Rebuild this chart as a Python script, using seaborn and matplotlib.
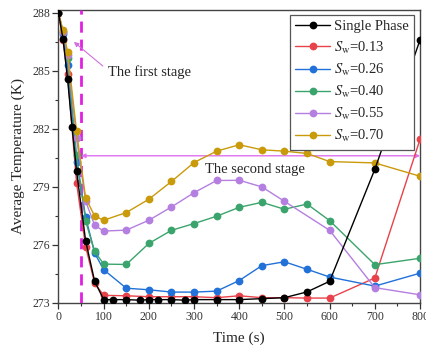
import matplotlib
matplotlib.use("Agg")
import matplotlib.pyplot as plt
import seaborn as sns

# Time axis (s)
t_single = [0, 10, 20, 30, 40, 60, 80, 100, 120, 150, 180, 200, 220, 250, 280,
            300, 350, 400, 450, 500, 550, 600, 700, 800]
T_single = [288.0, 286.65, 284.6, 282.1, 279.8, 276.2, 274.1, 273.15, 273.15,
            273.15, 273.12, 273.15, 273.15, 273.15, 273.12, 273.15, 273.15,
            273.15, 273.2, 273.25, 273.55, 274.1, 279.9, 286.6]

t_sw = [0, 10, 20, 40, 60, 80, 100, 150, 200, 250, 300, 350, 400, 450, 500,
        550, 600, 700, 800]
T_013 = [288.0, 286.6, 284.85, 279.2, 275.9, 274.0, 273.37, 273.35, 273.3, 273.3,
         273.3, 273.25, 273.35, 273.25, 273.25, 273.23, 273.23, 274.27, 281.45]
T_026 = [288.0, 286.9, 285.3, 280.3, 277.43, 275.56, 274.7, 273.74, 273.66,
         273.54, 273.54, 273.59, 274.14, 274.91, 275.11, 274.72, 274.32, 273.85,
         274.52]
T_040 = [288.0, 287.0, 285.65, 280.63, 277.22, 275.65, 274.99, 274.97, 276.06,
         276.74, 277.09, 277.47, 277.93, 278.19, 277.83, 278.1, 277.24, 274.96,
         275.29]
t_055 = [0, 10, 20, 40, 60, 80, 100, 150, 200, 250, 300, 350, 400, 450, 500,
         600, 700, 800]
T_055 = [288.0, 287.0, 285.8, 281.5, 278.25, 277.0, 276.7, 276.75, 277.26,
         277.95, 278.69, 279.32, 279.33, 278.99, 278.24, 276.74, 273.77, 273.4]
T_070 = [288.0, 287.1, 286.0, 281.86, 278.42, 277.48, 277.26, 277.66, 278.35,
         279.27, 280.25, 280.84, 281.17, 280.91, 280.84, 280.72, 280.3, 280.23,
         279.54]

labels = ["Single Phase", r"$S_{\rm w}$=0.13", r"$S_{\rm w}$=0.26",
          r"$S_{\rm w}$=0.40", r"$S_{\rm w}$=0.55", r"$S_{\rm w}$=0.70"]
colors = ["#000000", "#e8424a", "#2271d8", "#3aa46c", "#b47fe0", "#c99a0a"]

sns.set_theme(style="ticks")
plt.rcParams["font.family"] = ["Liberation Serif", "DejaVu Serif"]
plt.rcParams["mathtext.fontset"] = "stix"

fig = plt.figure(figsize=(4.26, 3.49), dpi=100)
ax = fig.add_axes([0.1373, 0.1332, 0.986 - 0.1373, 0.9713 - 0.1332])

series = [(t_single, T_single), (t_sw, T_013), (t_sw, T_026), (t_sw, T_040),
          (t_055, T_055), (t_sw, T_070)]
zorders = [10, 4, 5, 6, 7, 8]
handles = []
for (tx, ty), lab, col, z in zip(series, labels, colors, zorders):
    sns.lineplot(x=tx, y=ty, ax=ax, color=col, marker="o", markersize=5.6,
                 markeredgewidth=0, linewidth=1.0, label=lab, zorder=z,
                 sort=False, legend=False)
    handles.append(ax.lines[-1])

ax.set_xlim(0, 800)
ax.set_ylim(273, 288.15)
ax.set_xticks(range(0, 801, 100))
ax.set_xticks(range(50, 801, 100), minor=True)
ax.set_yticks([273, 276, 279, 282, 285, 288])
ax.set_yticks([274.5, 277.5, 280.5, 283.5, 286.5], minor=True)
ax.tick_params(axis="both", which="major", direction="out", length=4,
               width=0.9, labelsize=8.5, colors="#333333", pad=2)
ax.tick_params(axis="both", which="minor", direction="out", length=2.5,
               width=0.8, colors="#333333")
for s in ax.spines.values():
    s.set_color("#444444")
    s.set_linewidth(1.0)

ax.set_xlabel("Time (s)", fontsize=11, labelpad=6)
ax.set_ylabel("Average Temperature (K)", fontsize=11, labelpad=5)

# stage boundary and stage span
ax.axvline(50, color="#e020e0", lw=2, dashes=(4, 2.5), zorder=3)
ax.annotate("", xy=(50, 280.6), xytext=(800, 280.6),
            arrowprops=dict(arrowstyle="<|-|>", color="#e070f0", lw=1.0,
                            mutation_scale=6, shrinkA=0, shrinkB=0), zorder=3)
ax.annotate("", xy=(34, 286.5), xytext=(98, 285.25),
            arrowprops=dict(arrowstyle="-|>", color="#d070e0", lw=0.8,
                            mutation_scale=7, shrinkA=0, shrinkB=0))
ax.text(202, 284.94, "The first stage", fontsize=10.5, ha="center",
        va="center")
ax.text(435, 279.87, "The second stage", fontsize=10.5, ha="center",
        va="center")

leg = ax.legend(handles=handles, labels=labels, loc="upper right",
                bbox_to_anchor=(0.983, 0.983), borderaxespad=0,
                fontsize=10.5, handlelength=2.4, handletextpad=0.25,
                labelspacing=0.42, borderpad=0.35, fancybox=False,
                framealpha=1, edgecolor="#555555")
leg.get_frame().set_linewidth(0.9)
leg.set_zorder(20)

fig.savefig("out.png", dpi=100)
